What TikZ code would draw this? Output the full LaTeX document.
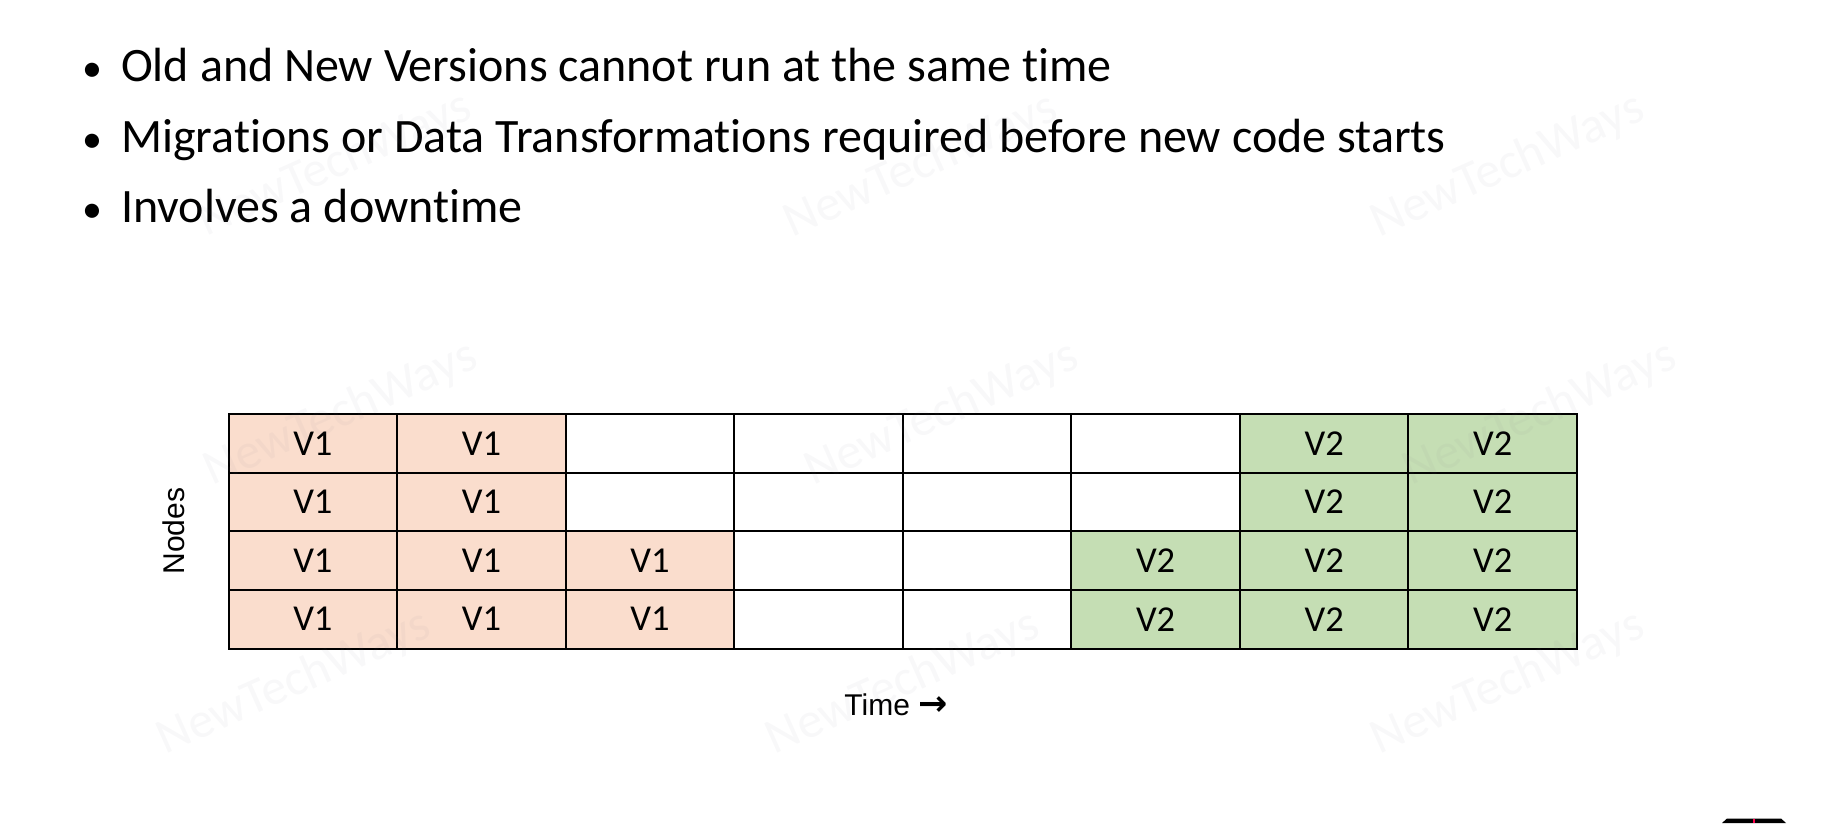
\documentclass[tikz,border=0pt]{standalone}
\usepackage{fontspec}
\setmainfont{Carlito}[Ligatures=NoCommon]
\newfontfamily\labelfont{Liberation Sans}
\newfontfamily\arrowfont{DejaVu Sans}
\definecolor{oldver}{RGB}{250,221,205}
\definecolor{newver}{RGB}{197,222,180}
\definecolor{wmgray}{RGB}{120,120,140}

\begin{document}
\begin{tikzpicture}[x=1pt,y=-1pt,
  bullettext/.style={anchor=base west,inner sep=0pt,font=\fontsize{48}{58}\selectfont},
  bulletmark/.style={anchor=base,inner sep=0pt,font=\fontsize{40}{48}\selectfont},
  cell/.style={draw=black,line width=2pt,minimum width=168.55pt,minimum height=58.625pt,
    inner sep=0pt,outer sep=0pt,font=\fontsize{36.5}{44}\selectfont},
  axislabel/.style={inner sep=0pt,font=\labelfont\fontsize{30}{36}\selectfont},
  wmark/.style={inner sep=0pt,text=wmgray,text opacity=0.05,font=\fontsize{50}{60}\selectfont}
]
\useasboundingbox (0,0) rectangle (1829,823);
\fill[white] (0,0) rectangle (1829,823);

% bullet list
\node[bulletmark] (b1) at (92,81) {•};
\node[bullettext] (t1) at (121,81) {Old and New Versions cannot run at the same time};
\node[bulletmark] (b2) at (92,152.5) {•};
\node[bullettext] (t2) at (121,152.5) {Migrations or Data Transformations required before new code starts};
\node[bulletmark] (b3) at (92,222.5) {•};
\node[bullettext] (t3) at (121,222.5) {Involves a downtime};

% node/time grid
\foreach \row [count=\r] in {
  {oldver/V1,oldver/V1,white/,white/,white/,white/,newver/V2,newver/V2},
  {oldver/V1,oldver/V1,white/,white/,white/,white/,newver/V2,newver/V2},
  {oldver/V1,oldver/V1,oldver/V1,white/,white/,newver/V2,newver/V2,newver/V2},
  {oldver/V1,oldver/V1,oldver/V1,white/,white/,newver/V2,newver/V2,newver/V2}} {
  \foreach \f/\t [count=\c] in \row {
    \node[cell,fill=\f] (c-\r-\c) at ({228.6+168.55*(\c-0.5)},{414+58.625*(\r-0.5)}) {\t};
  }
}

% axis labels
\node[axislabel,rotate=90] (nodes) at (174,531) {Nodes};
\node[axislabel,anchor=base] (time) at (896,715.7) {Time {\arrowfont\bfseries\fontsize{35}{40}\selectfont →}};

% watermark
\foreach \wx/\wy [count=\w] in {335/165,921/166,1508/166,341/414,942/414,1540/414,294/683,903/683,1508/683} {
  \node[wmark,rotate=24] (wm\w) at (\wx,\wy) {NewTechWays};
}

% corner logo, cut off by the page edge
\fill[black] (1722,823) -- (1727,818.5) -- (1781,818.5) -- (1786,823) -- cycle;
\draw[red!70!magenta,line width=2pt] (1754,818.5) -- (1754,823);
\end{tikzpicture}
\end{document}
